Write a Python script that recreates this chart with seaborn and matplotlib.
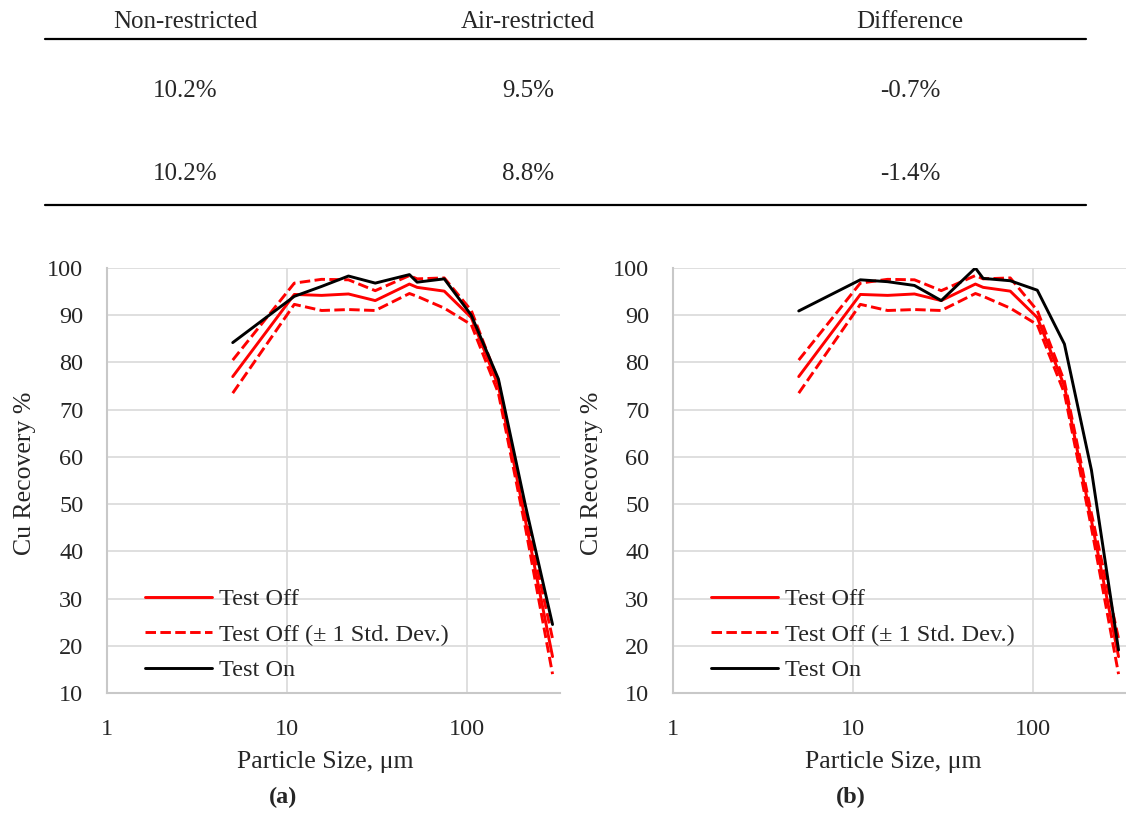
import matplotlib
matplotlib.use("Agg")
import matplotlib.pyplot as plt
from matplotlib.lines import Line2D
import seaborn as sns
import pandas as pd

# ---------------- data ----------------
sizes = [5, 11, 15.6, 22, 31, 48, 53, 75, 106, 150, 212, 300]
test_off = [77.0, 94.4, 94.2, 94.5, 93.1, 96.6, 95.9, 95.1, 89.5, 75.0, 46.5, 17.7]
test_off_hi = [80.5, 96.8, 97.6, 97.5, 95.2, 98.4, 97.7, 97.9, 91.0, 76.0, 48.0, 21.5]
test_off_lo = [73.5, 92.3, 91.0, 91.2, 91.0, 94.6, 94.0, 91.5, 88.0, 73.5, 45.0, 14.0]
test_on_a = [84.2, 94.0, 96.1, 98.3, 96.8, 98.6, 97.0, 97.7, 90.0, 76.5, 49.7, 24.5]
test_on_b = [90.9, 97.5, 97.1, 96.3, 93.1, 100.0, 97.8, 97.3, 95.3, 83.9, 57.2, 19.1]

table_headers = ["Non-restricted", "Air-restricted", "Difference"]
table_rows = [["10.2%", "9.5%", "-0.7%"], ["10.2%", "8.8%", "-1.4%"]]

y_ticks = [10, 20, 30, 40, 50, 60, 70, 80, 90, 100]
x_ticks = [1, 10, 100]
x_tick_labels = ["1", "10", "100"]
legend_labels = ["Test Off", "Test Off (\u00b1 1 Std. Dev.)", "Test On"]
panel_labels = ["(a)", "(b)"]

# ---------------- style ----------------
sns.set_style("white")
plt.rcParams["font.family"] = ["Liberation Serif", "DejaVu Serif"]

W, H = 1126, 814
fig = plt.figure(figsize=(W / 100, H / 100), dpi=100)

def fx(px):
    return px / W

def fy(py):
    return 1 - py / H

FS = 17.5
RED = "#FF0000"
LW = 2.1
DASH = (0, (3.6, 1.5))
GRID = "#d9d9d9"

# ---------------- table ----------------
col_x = [185, 528, 910]
for cx, h in zip(col_x, table_headers):
    fig.text(fx(cx), fy(22), h, ha="center", va="center", fontsize=FS + 0.5)
for ry, row in zip([91, 174], table_rows):
    for cx, v in zip(col_x, row):
        fig.text(fx(cx), fy(ry), v, ha="center", va="center", fontsize=FS + 0.5)
for ly in [39, 205]:
    fig.add_artist(Line2D([fx(45), fx(1086)], [fy(ly), fy(ly)], color="black", lw=1.6))

# ---------------- charts ----------------
def make_df(on_vals):
    return pd.DataFrame({
        "size": sizes,
        "off": test_off,
        "hi": test_off_hi,
        "lo": test_off_lo,
        "on": on_vals,
    })

panels = [
    dict(x0=107, on=test_on_a, xlab=325, ylab=25, plab=283),
    dict(x0=673, on=test_on_b, xlab=893, ylab=592, plab=851),
]
top, bot, width = 268, 693, 453

for i, p in enumerate(panels):
    ax = fig.add_axes([fx(p["x0"]), fy(bot), width / W, (bot - top) / H])
    df = make_df(p["on"])
    sns.lineplot(data=df, x="size", y="off", ax=ax, color=RED, lw=LW,
                 estimator=None, label=legend_labels[0])
    sns.lineplot(data=df, x="size", y="hi", ax=ax, color=RED, lw=LW,
                 estimator=None, linestyle=DASH, label=legend_labels[1])
    sns.lineplot(data=df, x="size", y="lo", ax=ax, color=RED, lw=LW,
                 estimator=None, linestyle=DASH, label="_nolegend_")
    sns.lineplot(data=df, x="size", y="on", ax=ax, color="black", lw=LW,
                 estimator=None, label=legend_labels[2])

    ax.set_xscale("log")
    ax.set_xlim(1, 330)
    ax.set_ylim(10, 100)
    ax.set_yticks(y_ticks)
    ax.set_xticks(x_ticks)
    ax.set_xticklabels(x_tick_labels)
    ax.minorticks_off()
    ax.tick_params(axis="y", length=0, pad=17, labelsize=FS)
    ax.tick_params(axis="x", length=0, pad=19, labelsize=FS)
    ax.grid(True, color=GRID, lw=1.2)
    ax.set_axisbelow(True)
    for s in ["top", "right"]:
        ax.spines[s].set_visible(False)
    for s in ["left", "bottom"]:
        ax.spines[s].set_color("#c8c8c8")
        ax.spines[s].set_linewidth(1.5)

    ax.set_xlabel("Particle Size, \u03bcm", fontsize=FS + 1)
    ax.xaxis.label.set_va("center")
    ax.xaxis.set_label_coords((p["xlab"] - p["x0"]) / width, (bot - 762) / (bot - top))
    ax.set_ylabel("Cu Recovery %", fontsize=FS + 1)
    ax.yaxis.label.set_va("center")
    ax.yaxis.set_label_coords((p["ylab"] - p["x0"]) / width, (bot - 473) / (bot - top))

    ax.legend(loc="lower left", bbox_to_anchor=((128 - 107) / width, -0.012),
              frameon=False, fontsize=FS, handlelength=2.75,
              handletextpad=0.3, labelspacing=0.55, borderpad=0.2)

    fig.text(fx(p["plab"]), fy(797), panel_labels[i], ha="center", va="center",
             fontsize=FS, fontweight="bold")

fig.savefig("out.png", dpi=100)
